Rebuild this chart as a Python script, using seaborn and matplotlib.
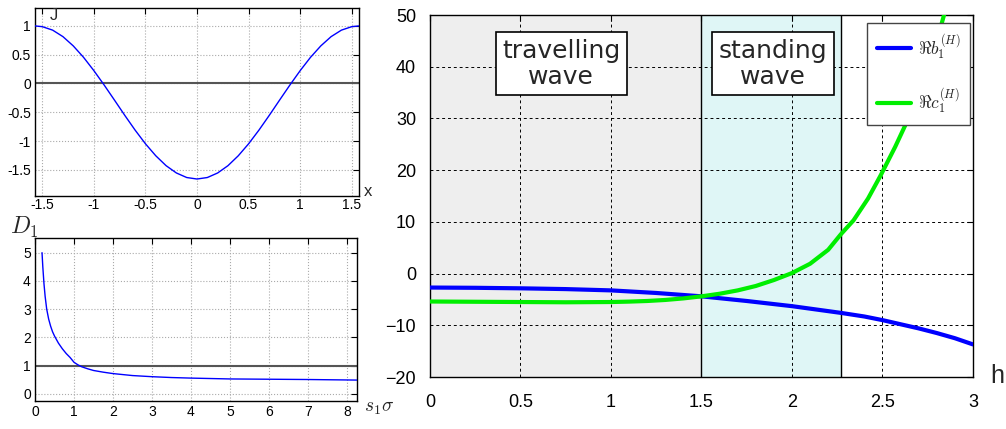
import numpy as np
import matplotlib
matplotlib.use("Agg")
import matplotlib.pyplot as plt
import seaborn as sns

# --- data ---

# top-left panel: J(x)
j_x = [-1.5708, -1.5, -1.4, -1.3, -1.2, -1.1, -1.0, -0.9, -0.8, -0.7, -0.6,
       -0.5, -0.4, -0.3, -0.2, -0.1, 0.0, 0.1, 0.2, 0.3, 0.4, 0.5, 0.6,
       0.7, 0.8, 0.9, 1.0, 1.1, 1.2, 1.3, 1.4, 1.5, 1.5708]
j_val = [1.0, 0.987, 0.927, 0.814, 0.653, 0.454, 0.223, -0.028, -0.290,
         -0.555, -0.811, -1.048, -1.256, -1.428, -1.555, -1.634, -1.66,
         -1.634, -1.555, -1.428, -1.256, -1.048, -0.811, -0.555, -0.290,
         -0.028, 0.223, 0.454, 0.653, 0.814, 0.927, 0.987, 1.0]

# bottom-left panel: D1(s1 sigma)
d_x = [0.18, 0.2, 0.23, 0.26, 0.3, 0.35, 0.4, 0.45, 0.5, 0.6, 0.7, 0.8, 0.9,
       1.0, 1.1, 1.2, 1.35, 1.5, 1.75, 2.0, 2.5, 3.0, 3.5, 4.0, 5.0, 6.0,
       7.0, 8.26]
d_val = [5.0, 4.5, 3.9, 3.45, 3.0, 2.65, 2.4, 2.2, 2.05, 1.8, 1.6, 1.43, 1.29,
         1.12, 1.03, 0.96, 0.89, 0.83, 0.77, 0.72, 0.65, 0.61, 0.58, 0.56,
         0.53, 0.52, 0.51, 0.49]

# right panel: Re b1, Re c1 against h
h_b = [0.0, 0.25, 0.5, 0.75, 1.0, 1.25, 1.5, 1.75, 2.0, 2.27, 2.4, 2.5, 2.6,
       2.7, 2.8, 2.9, 3.0]
b_val = [-2.7, -2.75, -2.85, -3.0, -3.25, -3.75, -4.4, -5.3, -6.3, -7.6, -8.3,
         -9.0, -9.8, -10.6, -11.5, -12.5, -13.7]
h_c = [0.0, 0.25, 0.5, 0.75, 1.0, 1.1, 1.2, 1.3, 1.4, 1.5, 1.6, 1.7, 1.8,
       1.9, 2.0, 2.1, 2.2, 2.27, 2.34, 2.42, 2.49, 2.57, 2.65, 2.72, 2.78,
       2.84, 2.9]
c_val = [-5.4, -5.45, -5.5, -5.55, -5.5, -5.42, -5.3, -5.1, -4.8, -4.4, -3.9,
         -3.25, -2.4, -1.25, 0.1, 1.9, 4.6, 7.6, 10.3, 14.5, 19.0, 24.5, 30.5,
         36.5, 42.5, 50.0, 57.0]

travelling_end = 1.5
standing_end = 2.27

sns.set_theme(style="white")
plt.rcParams["font.family"] = ["Liberation Sans", "DejaVu Sans"]
plt.rcParams["mathtext.fontset"] = "cm"

fig = plt.figure(figsize=(10.06, 4.29), dpi=100)
ax_j = fig.add_axes([0.0348, 0.5438, 0.3221, 0.4387])
ax_d = fig.add_axes([0.0348, 0.0653, 0.3201, 0.3800])
ax_h = fig.add_axes([0.4274, 0.1212, 0.5398, 0.8438])


def matlab_box(ax, size, pad):
    for s in ax.spines.values():
        s.set_visible(True)
        s.set_color("black")
        s.set_linewidth(1.0)
    ax.tick_params(direction="in", length=4, width=0.8, top=True, right=True,
                   labelsize=size, pad=pad, colors="black")


# --- J(x) ---
ax_j.axhline(0, color="#555555", lw=1.5, zorder=1)
sns.lineplot(x=j_x, y=j_val, ax=ax_j, color="#0000ff", lw=1.0,
             sort=False, estimator=None, zorder=3)
ax_j.set_xlim(-1.5708, 1.5708)
ax_j.set_ylim(-1.95, 1.32)
ax_j.set_xticks([-1.5, -1, -0.5, 0, 0.5, 1, 1.5])
ax_j.set_xticklabels(["-1.5", "-1", "-0.5", "0", "0.5", "1", "1.5"])
ax_j.set_yticks([-1.5, -1, -0.5, 0, 0.5, 1])
ax_j.set_yticklabels(["-1.5", "-1", "-0.5", "0", "0.5", "1"])
ax_j.grid(True, color="#aaaaaa", ls=":", lw=0.8)
matlab_box(ax_j, 10, 3)
ax_j.tick_params(axis="x", pad=2)
ax_j.text(0.058, 0.955, "J", transform=ax_j.transAxes, fontsize=12,
          ha="center", va="center")
fig.text(368 / 1006, 1 - 192 / 429, "x", fontsize=12, ha="center", va="center")

# --- D1 ---
ax_d.axhline(1, color="#555555", lw=1.5, zorder=1)
sns.lineplot(x=d_x, y=d_val, ax=ax_d, color="#0000ff", lw=1.0,
             sort=False, estimator=None, zorder=3)
ax_d.set_xlim(0, 8.26)
ax_d.set_ylim(-0.25, 5.52)
ax_d.set_xticks(range(0, 9))
ax_d.set_yticks(range(0, 6))
ax_d.grid(True, color="#aaaaaa", ls=":", lw=0.8)
matlab_box(ax_d, 10, 3)
fig.text(24 / 1006, 1 - 227 / 429, "$D_1$", fontsize=17, ha="center",
         va="center")
fig.text(379 / 1006, 1 - 408 / 429, r"$s_1\sigma$", fontsize=14, ha="center",
         va="center")

# --- right panel ---
ax_h.axvspan(0, travelling_end, color="#eeeeee", zorder=0)
ax_h.axvspan(travelling_end, standing_end, color="#dff6f6", zorder=0)
ax_h.axvline(travelling_end, color="black", lw=1.0, zorder=1)
ax_h.axvline(standing_end, color="black", lw=1.0, zorder=1)
ax_h.grid(True, color="black", ls=(0, (3, 3)), lw=0.7)
ax_h.set_axisbelow(False)
sns.lineplot(x=h_b, y=b_val, ax=ax_h, color="#0000ff", lw=3,
             sort=False, estimator=None, zorder=3,
             label=r"$\Re b_1^{(H)}$")
sns.lineplot(x=h_c, y=c_val, ax=ax_h, color="#00ee00", lw=3,
             sort=False, estimator=None, zorder=3,
             label=r"$\Re c_1^{(H)}$")
ax_h.set_xlim(0, 3)
ax_h.set_ylim(-20, 50)
ax_h.set_xticks([0, 0.5, 1, 1.5, 2, 2.5, 3])
ax_h.set_xticklabels(["0", "0.5", "1", "1.5", "2", "2.5", "3"])
ax_h.set_yticks(range(-20, 60, 10))
matlab_box(ax_h, 13, 10)
ax_h.tick_params(axis="x", pad=12)

box = dict(boxstyle="square,pad=0.26", fc="white", ec="black", lw=1.2)
ax_h.text(0.725, 40.6, "travelling\nwave", fontsize=18, ha="center",
          va="center", family="DejaVu Sans", linespacing=1.1, bbox=box,
          zorder=5)
ax_h.text(1.895, 40.6, "standing\nwave", fontsize=18, ha="center",
          va="center", family="DejaVu Sans", linespacing=1.1, bbox=box,
          zorder=5)

leg = ax_h.legend(loc="upper right", bbox_to_anchor=(0.995, 0.978),
                  fontsize=12.5, frameon=True, fancybox=False, framealpha=1,
                  edgecolor="#444444", handlelength=2.0, handletextpad=0.4,
                  labelspacing=1.45, borderpad=0.55, borderaxespad=0.0)
leg.get_frame().set_linewidth(1.0)
leg.set_zorder(6)

fig.text(997 / 1006, 1 - 376 / 429, "h", fontsize=18, ha="center",
         va="center")

fig.savefig("out.png", dpi=100)
